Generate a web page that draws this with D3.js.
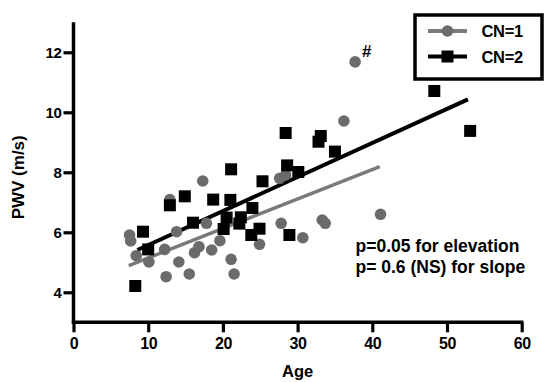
<!DOCTYPE html>
<html>
<head>
<meta charset="utf-8">
<script src="https://cdn.jsdelivr.net/npm/d3@7"></script>
<style>
  html, body { margin: 0; padding: 0; background: #fff; }
  svg { display: block; font-family: "Liberation Sans", Arial, sans-serif; }
</style>
</head>
<body>
<svg id="chart" width="544" height="382"></svg>
<script>
// ---- data ----
const cn1Age = [7.5, 7.65, 8.4, 10.1, 12.2, 12.4, 12.9, 13.8, 14.1, 15.5, 16.2, 16.8, 17.3, 17.8, 18.5, 19.6, 21.1, 21.5, 24.9, 27.8, 27.6, 28.4, 30.7, 33.3, 33.7, 36.2, 37.7, 41.1];
const cn1Pwv = [5.91, 5.71, 5.22, 5.01, 5.43, 4.52, 7.09, 6.02, 5.01, 4.61, 5.32, 5.52, 7.71, 6.3, 5.41, 5.72, 5.1, 4.61, 5.6, 6.3, 7.8, 7.91, 5.82, 6.41, 6.3, 9.71, 11.68, 6.6];
const cn2Age = [8.27, 9.3, 10.0, 12.9, 14.9, 16.0, 18.7, 20.1, 20.5, 21.1, 21.0, 22.2, 22.4, 23.95, 23.8, 24.9, 25.3, 28.4, 28.6, 28.9, 30.1, 32.8, 33.1, 35.0, 48.3, 53.1];
const cn2Pwv = [4.21, 6.02, 5.43, 6.9, 7.2, 6.32, 7.09, 6.11, 6.49, 8.1, 7.08, 6.29, 6.5, 6.81, 5.91, 6.12, 7.7, 9.31, 8.23, 5.91, 8.01, 9.02, 9.21, 8.69, 10.71, 9.38];
// regression line endpoints [age, pwv]
const fitCN1 = [[7.4, 4.89], [41.0, 8.19]];
const fitCN2 = [[8.55, 5.41], [52.8, 10.43]];
const xTicks = [0, 10, 20, 30, 40, 50, 60];
const yTicks = [4, 6, 8, 10, 12];
const legendLabels = ["CN=1", "CN=2"];
const annotations = ["p=0.05 for elevation", "p= 0.6 (NS) for slope"];
const markLabel = "#";
const markIndex = 26; // CN=1 point flagged with '#'

// ---- layout ----
const svg = d3.select("#chart");
const x = d3.scaleLinear().domain([0, 60]).range([73.5, 521.7]);
const y = d3.scaleLinear().domain([3, 13]).range([322.3, 22.3]);
const grayPt = "#6b6b6b", grayLine = "#7a7a7a", black = "#000";

// axes
const xAxis = d3.axisBottom(x).tickValues(xTicks).tickSize(10).tickSizeOuter(0).tickPadding(5);
const yAxis = d3.axisLeft(y).tickValues(yTicks).tickSize(10).tickSizeOuter(0).tickPadding(2);

const gx = svg.append("g").attr("transform", `translate(0,${y(3)})`).call(xAxis);
const gy = svg.append("g").attr("transform", `translate(${x(0)},0)`).call(yAxis);
[gx, gy].forEach((g, k) => {
  g.attr("font-size", null).attr("font-family", null);
  g.select(".domain").attr("stroke", black).attr("stroke-width", 3.5);
  g.selectAll(".tick line").attr("stroke", black).attr("stroke-width", 3.2);
  g.selectAll(".tick text").attr("fill", "#000")
    .style("font-size", k === 0 ? "16px" : "15px").style("font-weight", "bold")
    .style("font-family", "'Liberation Sans', Arial, sans-serif").style("letter-spacing", "-0.4px");
});
// extend domains slightly so they meet at the corner
gx.select(".domain").attr("d", `M${x(0) - 1.7},0H${x(60) + 1.7}`);
gy.select(".domain").attr("d", `M0,${y(13)}V${y(3) + 1.7}`);

// axis titles
svg.append("text").attr("x", (x(0) + x(60)) / 2).attr("y", 377)
  .attr("text-anchor", "middle").style("font-size", "16.5px").style("font-weight", "bold").attr("fill", "#000")
  .text("Age");
svg.append("text").attr("transform", `translate(24,${(y(13) + y(3)) / 2 + 5}) rotate(-90)`)
  .attr("text-anchor", "middle").style("font-size", "17px").style("font-weight", "bold").attr("fill", "#000")
  .text("PWV (m/s)");

// regression lines
const line = d3.line().x(d => x(d[0])).y(d => y(d[1]));
svg.append("path").attr("d", line(fitCN1)).attr("stroke", grayLine).attr("stroke-width", 3.5).attr("fill", "none");
svg.append("path").attr("d", line(fitCN2)).attr("stroke", black).attr("stroke-width", 4).attr("fill", "none");

// points
const s = 12;
svg.append("g").selectAll("circle").data(cn1Age.map((a, i) => [a, cn1Pwv[i]])).join("circle")
  .attr("cx", d => x(d[0])).attr("cy", d => y(d[1])).attr("r", 5.8).attr("fill", grayPt);
svg.append("g").selectAll("rect").data(cn2Age.map((a, i) => [a, cn2Pwv[i]])).join("rect")
  .attr("x", d => x(d[0]) - s / 2).attr("y", d => y(d[1]) - s / 2)
  .attr("width", s).attr("height", s).attr("fill", black);

// '#' marker
svg.append("text").attr("x", x(cn1Age[markIndex]) + 7).attr("y", y(cn1Pwv[markIndex]) - 5)
  .style("font-size", "17px").style("font-weight", "bold").attr("fill", "#000").text(markLabel);

// annotations
svg.append("g").selectAll("text").data(annotations).join("text")
  .attr("x", 355.5).attr("y", (d, i) => 252 + i * 21)
  .style("font-size", "17.5px").style("font-weight", "bold").attr("fill", "#000")
  .text(d => d);

// legend
const lg = svg.append("g");
lg.append("rect").attr("x", 415).attr("y", 15).attr("width", 127).attr("height", 64)
  .attr("fill", "#fff").attr("stroke", black).attr("stroke-width", 3.5);
const legY = [31, 56.5];
legendLabels.forEach((lab, i) => {
  const cy = legY[i];
  lg.append("line").attr("x1", 428).attr("x2", 467).attr("y1", cy).attr("y2", cy)
    .attr("stroke", i === 0 ? grayLine : black).attr("stroke-width", 4);
  if (i === 0) lg.append("circle").attr("cx", 447.5).attr("cy", cy).attr("r", 5.8).attr("fill", grayPt);
  else lg.append("rect").attr("x", 447.5 - s / 2).attr("y", cy - s / 2).attr("width", s).attr("height", s).attr("fill", black);
  lg.append("text").attr("x", 481.5).attr("y", cy + 6).style("font-size", "16.5px").style("font-weight", "bold")
    .attr("fill", "#000").style("letter-spacing", "-0.3px").text(lab);
});
</script>
</body>
</html>
